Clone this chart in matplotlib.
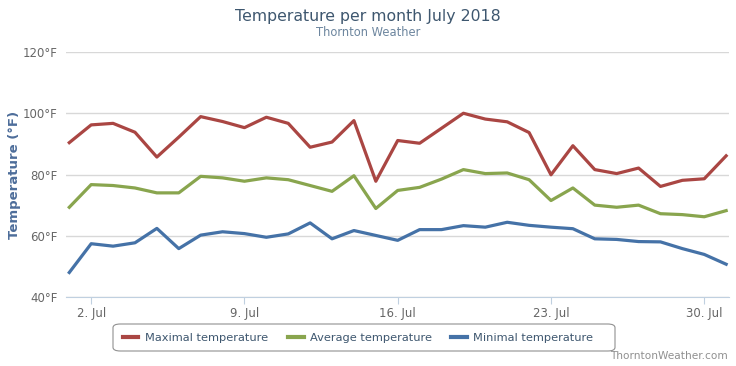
import numpy as np
import matplotlib.pyplot as plt
from matplotlib.patches import FancyBboxPatch

days = np.arange(1, 32)
max_temp = [90.4, 96.2, 96.7, 93.8, 85.7, 92.2, 98.9, 97.3, 95.3, 98.7, 96.7,
            88.9, 90.6, 97.6, 77.8, 91.1, 90.2, 95.1, 100.0, 98.1, 97.2,
            93.7, 79.9, 89.4, 81.6, 80.3, 82.1, 76.1, 78.1, 78.6, 86.1]
avg_temp = [69.3, 76.7, 76.4, 75.6, 74.0, 74.0, 79.4, 78.9, 77.8, 78.9, 78.3,
            76.4, 74.5, 79.6, 68.9, 74.8, 75.8, 78.5, 81.6, 80.3, 80.5,
            78.3, 71.5, 75.6, 70.0, 69.3, 70.0, 67.2, 66.9, 66.2, 68.2]
min_temp = [48.0, 57.4, 56.6, 57.7, 62.4, 55.8, 60.2, 61.3, 60.7, 59.5, 60.6,
            64.2, 59.0, 61.7, 60.1, 58.5, 62.0, 62.0, 63.3, 62.8, 64.4,
            63.4, 62.8, 62.3, 59.0, 58.8, 58.1, 58.0, 55.8, 53.9, 50.7]
tick_days = [2, 9, 16, 23, 30]
tick_labels = ["2. Jul", "9. Jul", "16. Jul", "23. Jul", "30. Jul"]
y_ticks = [40, 60, 80, 100, 120]

fig = plt.figure(figsize=(7.36, 3.66), dpi=100)
ax = fig.add_axes([66 / 736, 1 - 297 / 366, (729 - 66) / 736, (297 - 52) / 366])

ax.plot(days, max_temp, color="#AA4643", lw=2.3, label="Maximal temperature", solid_joinstyle="round")
ax.plot(days, avg_temp, color="#89A54E", lw=2.3, label="Average temperature", solid_joinstyle="round")
ax.plot(days, min_temp, color="#4572A7", lw=2.3, label="Minimal temperature", solid_joinstyle="round")

ax.set_xlim(0.85, 31.13)
ax.set_ylim(40, 120)
ax.set_yticks(y_ticks)
ax.set_yticklabels([f"{v}°F" for v in y_ticks])
ax.set_xticks(tick_days)
ax.set_xticklabels(tick_labels)
ax.grid(axis="y", color="#d8d8d8", lw=1)
ax.set_axisbelow(True)
for s in ["top", "right", "left"]:
    ax.spines[s].set_visible(False)
ax.spines["bottom"].set_color("#C0D0E0")
ax.tick_params(axis="x", colors="#C0D0E0", length=5, labelcolor="#666666", labelsize=8.5, pad=2)
ax.tick_params(axis="y", length=0, labelcolor="#666666", labelsize=8.5, pad=6)
ax.set_ylabel("Temperature (°F)", color="#4d6d9a", fontsize=9.5, fontweight="bold", labelpad=6)
ax.yaxis.set_label_coords(-45 / 663, 0.5)

fig.text(0.5, 1 - 17 / 366, "Temperature per month July 2018", ha="center", va="center",
         fontsize=11.3, color="#3E576F")
fig.text(0.5, 1 - 33 / 366, "Thornton Weather", ha="center", va="center",
         fontsize=8.3, color="#6D869F")

box = FancyBboxPatch((113 / 736, 1 - 351 / 366), (615 - 113) / 736, 27 / 366,
                     boxstyle="round,pad=0,rounding_size=0.01", transform=fig.transFigure,
                     fc="white", ec="#909090", lw=0.8)
fig.patches.append(box)
leg = fig.legend(loc="center", bbox_to_anchor=(358 / 736, 1 - 338 / 366), ncol=3, frameon=False,
                 fontsize=8.2, handlelength=1.4, handletextpad=0.53, columnspacing=1.75)
for t in leg.get_texts():
    t.set_color("#3E576F")
for l in leg.get_lines():
    l.set_linewidth(3)

fig.text(728 / 736, 1 - 356 / 366, "ThorntonWeather.com", ha="right", va="center",
         fontsize=7.6, color="#909090")

fig.savefig("out.png", dpi=100)
